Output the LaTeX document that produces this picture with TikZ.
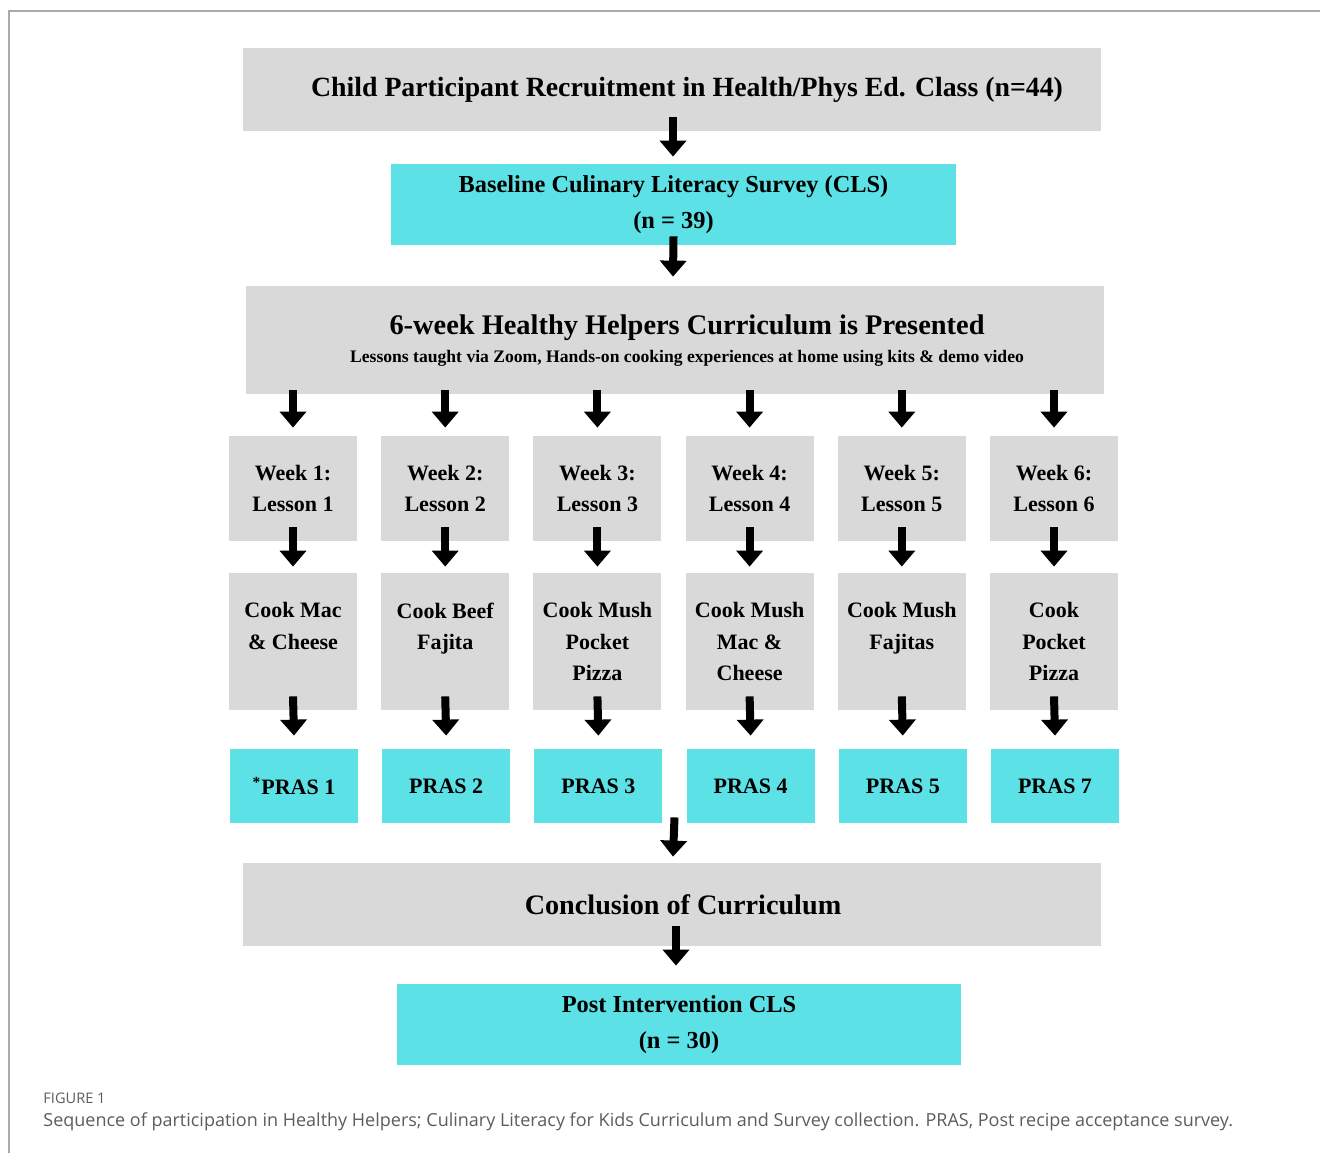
\documentclass[tikz,border=0pt]{standalone}
\usepackage{fontspec}
\setmainfont{Liberation Serif}
\newfontfamily\capfont{Open Sans}
\usetikzlibrary{arrows.meta,calc}
\definecolor{boxgray}{HTML}{D9D9D9}
\definecolor{boxcyan}{HTML}{5CE1E6}
\definecolor{capgray}{HTML}{5C5C5C}
\definecolor{framegray}{HTML}{AAAAAA}

\begin{document}
\begin{tikzpicture}[x=0.5pt, y=-0.5pt,
  graybox/.style={fill=boxgray, inner sep=0pt},
  cyanbox/.style={fill=boxcyan, inner sep=0pt, align=center, font=\bfseries\fontsize{12.2}{18}\selectfont},
  smallbox/.style={fill=boxgray, inner sep=0pt, minimum width=64pt, align=center, font=\bfseries\fontsize{11}{15.6}\selectfont},
  down/.style={line width=4pt, -{Triangle[width=13pt,length=8pt]}}]
\useasboundingbox (0,0) rectangle (1320,1153);
% frame
\draw[framegray, line width=0.8pt] (1320,11) -- (9,11) -- (9,1153);

% top of the flow
\node[graybox, minimum width=429pt, minimum height=41.5pt,
  label={[xshift=7.5pt, font=\bfseries\fontsize{13.9}{16}\selectfont]center:Child Participant Recruitment in Health/Phys Ed. Class (n=44)}]
  (recruit) at (672,89.5) {};
\node[cyanbox, minimum width=282.5pt, minimum height=40.5pt] (cls) at (673.5,204.5)
  {Baseline Culinary Literacy Survey (CLS)\\(n = 39)};
\node[graybox, minimum width=429pt, minimum height=54pt,
  label={[xshift=6pt, yshift=-0.5pt, align=center]center:{\bfseries\fontsize{14.2}{16}\selectfont 6-week Healthy Helpers Curriculum is Presented}\\[2pt]
    {\bfseries\fontsize{8.8}{10}\selectfont Lessons taught via Zoom, Hands-on cooking experiences at home using kits \& demo video}}]
  (curric) at (675,340) {};

% weekly lessons
\foreach \i/\cook/\pras in {1/{Cook Mac\\\& Cheese\\\mbox{}}/{\textsuperscript{*}PRAS 1},
    2/{Cook Beef\\Fajita\\\mbox{}}/{PRAS 2},
    3/{Cook Mush\\Pocket\\Pizza}/{PRAS 3},
    4/{Cook Mush\\Mac \&\\Cheese}/{PRAS 4},
    5/{Cook Mush\\Fajitas\\\mbox{}}/{PRAS 5},
    6/{Cook\\Pocket\\Pizza}/{PRAS 7}}{
  \node[smallbox, minimum height=52.5pt] (week\i) at ({293+152.2*(\i-1)},488.5) {Week \i:\\Lesson \i};
  \node[smallbox, minimum height=68.5pt] (cook\i) at ({293+152.2*(\i-1)},641.5) {\cook};
  \node[cyanbox, minimum width=64pt, minimum height=37pt, font=\bfseries\fontsize{11}{14}\selectfont]
    (pras\i) at ({294+152.2*(\i-1)},786) {\pras};
  \draw[down] ($(week\i.north |- curric.south)+(0pt,2pt)$) -- ($(week\i.north)+(0pt,4pt)$);
  \draw[down] ($(week\i.south)+(0pt,7pt)$) -- ($(cook\i.north)+(0pt,3pt)$);
  \draw[down] ($(cook\i.south)+(0pt,7pt)$) -- ($(pras\i.north)+(0pt,6.5pt)$);
}

% end of the flow
\node[graybox, minimum width=429pt, minimum height=41.5pt,
  label={[xshift=5.5pt, font=\bfseries\fontsize{14.1}{16}\selectfont]center:Conclusion of Curriculum}]
  (concl) at (672,904.5) {};
\node[cyanbox, minimum width=282pt, minimum height=40.5pt] (post) at (679,1024.5)
  {Post Intervention CLS\\(n = 30)};

\draw[down] ($(recruit.south)+(0.5pt,7pt)$) -- ($(cls.north)+(-0.25pt,3.5pt)$);
\draw[down] ($(cls.south)+(0pt,4.5pt)$) -- ($(curric.north)+(-1pt,4.5pt)$);
\draw[down] ($(pras3.south)!0.5!(pras4.south)+(0pt,3pt)$) -- ($(concl.north)+(0.5pt,3pt)$);
\draw[down] ($(concl.south)+(2pt,10pt)$) -- ($(post.north)+(-1.5pt,9pt)$);

% caption
\node[anchor=west, inner sep=0pt, text=capgray, font=\capfont\fontsize{7.3}{8}\selectfont] (fig) at (43,1098) {FIGURE 1};
\node[anchor=west, inner sep=0pt, text=capgray, font=\capfont\fontsize{9}{11}\selectfont] (caption) at (43,1122)
  {Sequence of participation in Healthy Helpers; Culinary Literacy for Kids Curriculum and Survey collection. PRAS, Post recipe acceptance survey.};
\end{tikzpicture}
\end{document}
